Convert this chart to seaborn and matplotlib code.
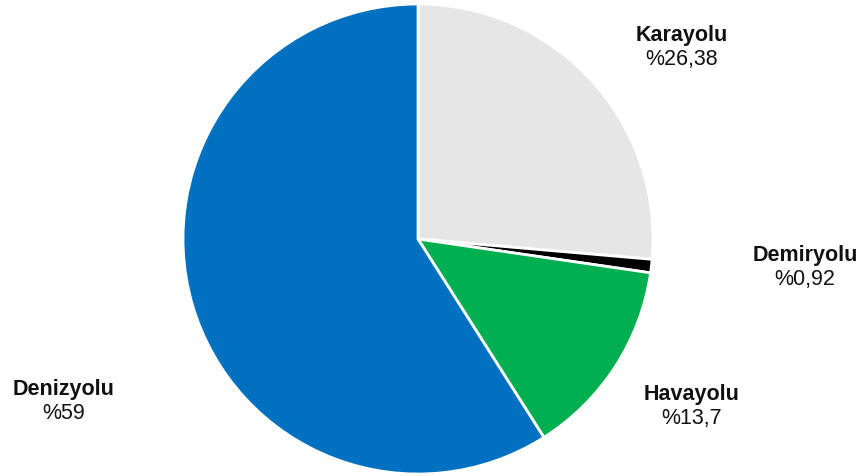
import matplotlib
matplotlib.use("Agg")
import seaborn as sns
import matplotlib.pyplot as plt

# data
modes = ["Karayolu", "Demiryolu", "Havayolu", "Denizyolu"]
shares = [26.38, 0.92, 13.7, 59]
value_labels = ["%26,38", "%0,92", "%13,7", "%59"]
colors = ["#E6E6E6", "#000000", "#00B050", "#0070C0"]

sns.set_theme(style="white")
plt.rcParams['font.family'] = ['Liberation Sans', 'DejaVu Sans']

fig = plt.figure(figsize=(8.64, 4.77), dpi=100)
W, H = 864, 477
cx, cy, r = 418, 240, 235
half = r * 1.02
ax = fig.add_axes([(cx - half) / W, (H - cy - half) / H, 2 * half / W, 2 * half / H])

ax.pie(shares, colors=colors, startangle=90, counterclock=False,
       wedgeprops=dict(edgecolor="white", linewidth=2))
ax.set_xlim(-1.02, 1.02)
ax.set_ylim(-1.02, 1.02)
ax.set_aspect("equal")
ax.axis("off")

# label positions in pixels (x centre, baseline of name), layout only
label_pos = [(682, 41), (805, 261), (692, 400), (64, 395)]
for name, val, (x, y) in zip(modes, value_labels, label_pos):
    fig.text(x / W, 1 - y / H, name, ha="center", va="baseline",
             fontsize=15.5, fontweight="bold", color="#111111")
    fig.text(x / W, 1 - (y + 24.5) / H, val, ha="center", va="baseline",
             fontsize=15.5, color="#111111")

fig.savefig("out.png", dpi=100)
